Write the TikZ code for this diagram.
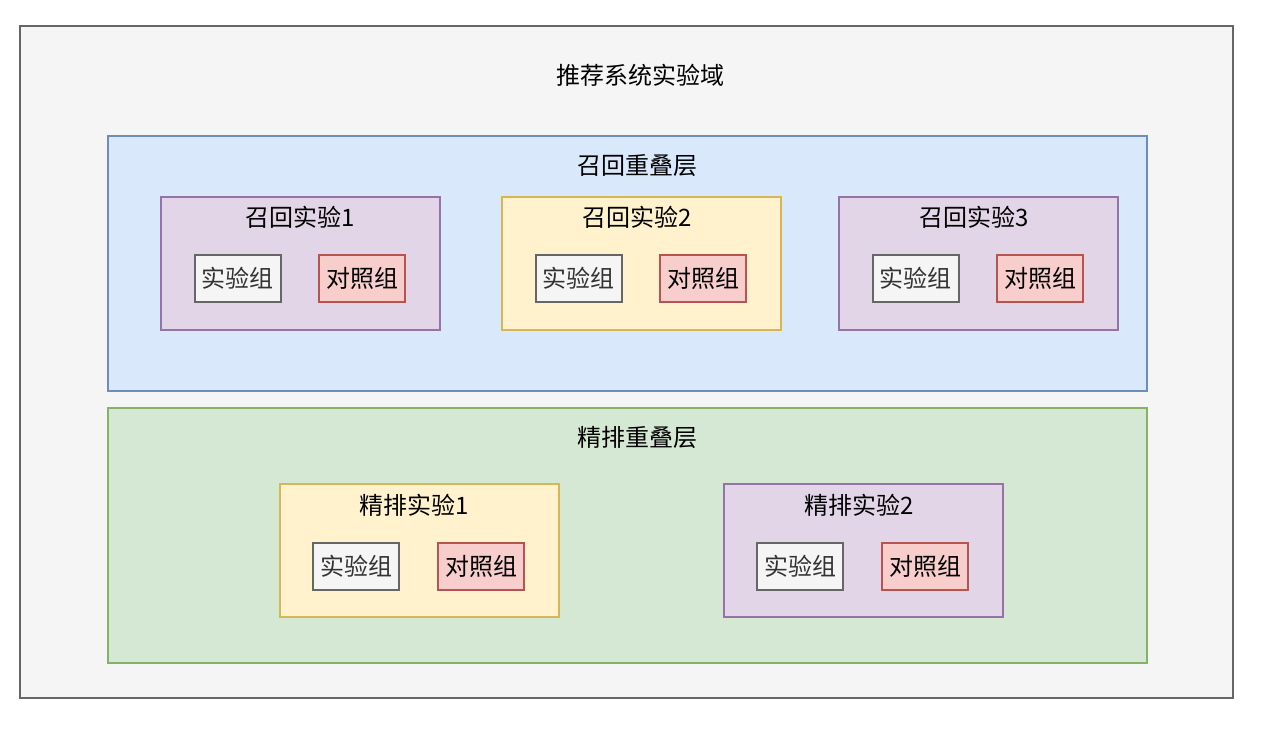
\documentclass[tikz,border=0pt]{standalone}
\usepackage{fontspec}
\setmainfont{Noto Sans CJK SC}
\usetikzlibrary{positioning, calc}

\definecolor{domfill}{HTML}{F5F5F5}
\definecolor{domline}{HTML}{666666}
\definecolor{bluefill}{HTML}{DAE8FC}
\definecolor{blueline}{HTML}{6C8EBF}
\definecolor{greenfill}{HTML}{D5E8D4}
\definecolor{greenline}{HTML}{82B366}
\definecolor{purplefill}{HTML}{E1D5E7}
\definecolor{purpleline}{HTML}{9673A6}
\definecolor{yellowfill}{HTML}{FFF2CC}
\definecolor{yellowline}{HTML}{D6B656}
\definecolor{redfill}{HTML}{F8CECC}
\definecolor{redline}{HTML}{B85450}
\definecolor{txtgrey}{HTML}{333333}

\tikzset{
  box/.style={draw, line width=2pt, anchor=north west, inner sep=0pt},
  layer/.style={box, minimum width=1039pt, minimum height=255pt},
  expbox/.style={box, minimum width=279pt, minimum height=133pt},
  purplebox/.style={expbox, fill=purplefill, draw=purpleline},
  yellowbox/.style={expbox, fill=yellowfill, draw=yellowline},
  grpbox/.style={draw, line width=2pt, minimum width=86pt, minimum height=47pt,
    inner sep=0pt, font=\fontsize{24}{28}\selectfont, text=txtgrey},
  testgrp/.style={grpbox, fill=domfill, draw=domline},
  ctrlgrp/.style={grpbox, fill=redfill, draw=redline, text=black},
  title/.style={font=\fontsize{24}{28}\selectfont, inner sep=0pt}
}

\begin{document}
\begin{tikzpicture}[x=1pt, y=-1pt]
\useasboundingbox (0,0) rectangle (1268,728);
\fill[white] (0,0) rectangle (1268,728);

% domain
\node[box, fill=domfill, draw=domline, minimum width=1213pt, minimum height=672pt] (domain) at (19,25) {};
\node[title] (domtitle) at (640,75) {推荐系统实验域};

% recall layer
\node[layer, fill=bluefill, draw=blueline] (recall) at (107,135) {};
\node[title] (recalltitle) at (637,166) {召回重叠层};

\node[purplebox] (rexp1) at (160,196) {};
\node[title] (rexp1title) at (300,217) {召回实验1};
\node[testgrp] (rexp1a) at (237.5,278.5) {实验组};
\node[ctrlgrp] (rexp1b) at (362,278.5) {对照组};

\node[yellowbox] (rexp2) at (501,196) {};
\node[title] (rexp2title) at (637,217) {召回实验2};
\node[testgrp] (rexp2a) at (578.5,278.5) {实验组};
\node[ctrlgrp] (rexp2b) at (703,278.5) {对照组};

\node[purplebox] (rexp3) at (838,196) {};
\node[title] (rexp3title) at (974.5,217) {召回实验3};
\node[testgrp] (rexp3a) at (915.5,278.5) {实验组};
\node[ctrlgrp] (rexp3b) at (1040,278.5) {对照组};

% ranking layer
\node[layer, fill=greenfill, draw=greenline] (rank) at (107,407) {};
\node[title] (ranktitle) at (637,437) {精排重叠层};

\node[yellowbox] (kexp1) at (279,483) {};
\node[title] (kexp1title) at (414.5,505) {精排实验1};
\node[testgrp] (kexp1a) at (356,566) {实验组};
\node[ctrlgrp] (kexp1b) at (481,566) {对照组};

\node[purplebox] (kexp2) at (723,483) {};
\node[title] (kexp2title) at (859,505) {精排实验2};
\node[testgrp] (kexp2a) at (800,566) {实验组};
\node[ctrlgrp] (kexp2b) at (925,566) {对照组};
\end{tikzpicture}
\end{document}
